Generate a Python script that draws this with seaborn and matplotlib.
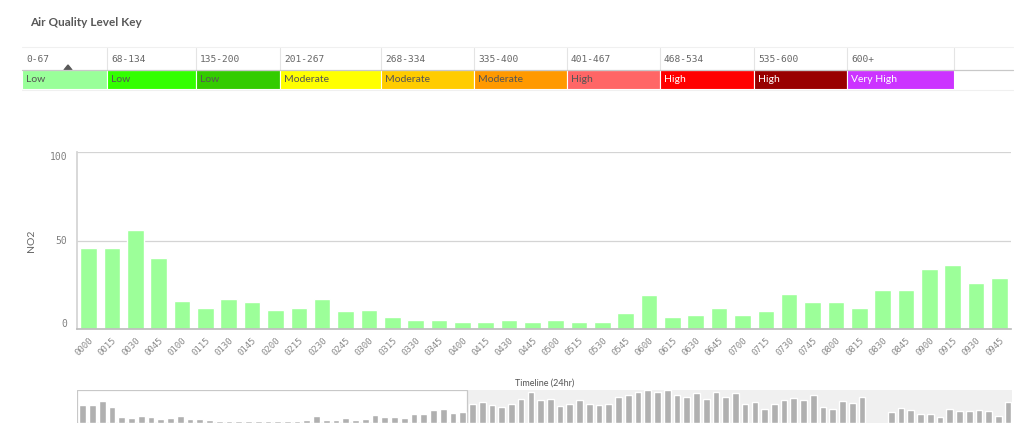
import matplotlib.pyplot as plt
import matplotlib.patches as mpatches
import pandas as pd
import seaborn as sns

# air quality key
key_ranges = ['0-67', '68-134', '135-200', '201-267', '268-334', '335-400',
              '401-467', '468-534', '535-600', '600+']
key_levels = ['Low', 'Low', 'Low', 'Moderate', 'Moderate', 'Moderate',
              'High', 'High', 'High', 'Very High']
key_colors = ['#99ff99', '#33ff00', '#33cc00', '#ffff00', '#ffcc00', '#ff9900',
              '#ff6666', '#ff0000', '#990000', '#cc33ff']
key_text_colors = ['#555555'] * 7 + ['white'] * 3

# main chart: NO2 per 15 min
times = ['0000', '0015', '0030', '0045', '0100', '0115', '0130', '0145',
         '0200', '0215', '0230', '0245', '0300', '0315', '0330', '0345',
         '0400', '0415', '0430', '0445', '0500', '0515', '0530', '0545',
         '0600', '0615', '0630', '0645', '0700', '0715', '0730', '0745',
         '0800', '0815', '0830', '0845', '0900', '0915', '0930', '0945']
no2 = [46, 46, 56, 40, 16, 12, 17, 15, 11, 12, 17, 10, 11, 7, 5, 5,
       4, 4, 5, 4, 5, 4, 4, 9, 19, 7, 8, 12, 8, 10, 20, 15,
       15, 12, 22, 22, 34, 36, 26, 29]

# rest of the 24hr timeline (1000 onwards), None = no reading
no2_rest = [50, 53, 46, 42, 49, 63, 80, 59, 63, 44, 50, 58, 50, 46, 50, 67,
            72, 81, 84, 79, 84, 72, 66, 78, 62, 81, 68, 77, 48, 53, 35, 48,
            60, 64, 58, 71, 40, 36, 57, 51, 68, None, None, 29, 39, 34, 24, 22,
            16, 35, 30, 31, 34, 31, 18, 55]

W, H = 1024, 433
sns.set_theme(style='white')
plt.rcParams['font.family'] = ['Lato', 'DejaVu Sans']

fig = plt.figure(figsize=(W / 100, H / 100), dpi=100)


def frac(x0, y0, x1, y1):
    # pixel box (top-left origin) -> figure fraction rect
    return [x0 / W, 1 - y1 / H, (x1 - x0) / W, (y1 - y0) / H]


# ---- key table ----
ax_key = fig.add_axes([0, 0, 1, 1])
ax_key.set_xlim(0, W)
ax_key.set_ylim(H, 0)
ax_key.axis('off')

ax_key.text(30, 23, 'Air Quality Level Key', fontsize=8.5, fontweight='bold',
            color='#595959', va='center', ha='left')

col_w = [85, 89, 84, 101, 93, 93, 93, 94, 93, 107]
row1 = (48, 70)
row2 = (70, 89)
x = 22
for rng, lvl, c, tc, w in zip(key_ranges, key_levels, key_colors, key_text_colors, col_w):
    ax_key.add_patch(mpatches.Rectangle((x, row2[0]), w, row2[1] - row2[0],
                                        facecolor=c, edgecolor='white', lw=0.8))
    ax_key.text(x + 4, (row1[0] + row1[1]) / 2, rng, family='DejaVu Sans Mono',
                fontsize=6.8, color='#666666', va='center', ha='left')
    ax_key.text(x + 4, (row2[0] + row2[1]) / 2 + 0.5, lvl, fontsize=7.5,
                color=tc, va='center', ha='left')
    ax_key.plot([x + w, x + w], [row1[0], row1[1]], color='#e4e4e4', lw=0.8)
    x += w
ax_key.plot([22, 1013], [row1[0] - 1, row1[0] - 1], color='#f0f0f0', lw=0.8)
ax_key.plot([22, 1013], [row1[1], row1[1]], color='#c8c8c8', lw=0.9)
ax_key.plot([22, 1013], [row2[1] + 1, row2[1] + 1], color='#f0f0f0', lw=0.8)
ax_key.add_patch(mpatches.Polygon([(64, 70), (72, 70), (68, 65)],
                                  closed=True, color='#595959'))

# ---- main bar chart ----
ax = fig.add_axes(frac(77, 152, 1011, 329))
df = pd.DataFrame({'time': times, 'NO2': no2})
sns.barplot(data=df, x='time', y='NO2', color='#9cff99', saturation=1,
            width=0.71, ax=ax)
ax.set_xlim(-0.5, len(times) - 0.5)
ax.set_ylim(0, 100)
ax.set_yticks([0, 50, 100])
ax.axhline(50, color='#d4d4d4', lw=0.9, zorder=0)
ax.axhline(100, color='#d4d4d4', lw=0.9, zorder=0)
for s in ['top', 'right']:
    ax.spines[s].set_visible(False)
ax.spines['left'].set_color('#d4d4d4')
ax.spines['bottom'].set_color('#bdbdbd')
ax.tick_params(axis='both', length=0)
ax.tick_params(axis='y', pad=7)
ax.tick_params(axis='x', pad=5)
for lab, va in zip(ax.get_yticklabels(), ['bottom', 'center', 'top']):
    lab.set_family('DejaVu Sans Mono')
    lab.set_fontsize(7)
    lab.set_color('#808080')
    lab.set_va(va)
ax.set_xticks(range(len(times)))
ax.set_xticklabels(times, rotation=45, ha='right', rotation_mode='anchor',
                   family='DejaVu Sans Mono', fontsize=6.5, color='#8a8a8a')
ax.set_xlabel('')
ax.set_ylabel('NO2', fontsize=7.5, color='#666666', labelpad=10)

# ---- timeline navigator ----
tl_vals = no2 + no2_rest
tl_slots = [f'{i // 4:02d}{(i % 4) * 15:02d}' for i in range(len(tl_vals))]
tl = pd.DataFrame({'slot': tl_slots, 'NO2': tl_vals})

ax_tl = fig.add_axes(frac(77, 390, 1012, 423))
ax_tl.set_facecolor('#f0f0f0')
sns.barplot(data=tl.dropna(), x='slot', y='NO2', order=tl_slots,
            color='#b0b0b0', saturation=1, width=0.69, ax=ax_tl, zorder=3)
ax_tl.set_xlim(-0.6, len(tl_vals) - 0.6)
ax_tl.set_ylim(0, 85)
ax_tl.axvspan(-0.6, len(times) - 0.55, facecolor='white', edgecolor='#c8c8c8',
              lw=0.9, zorder=1)
ax_tl.set_xticks([])
ax_tl.set_yticks([])
ax_tl.set_xlabel('')
ax_tl.set_ylabel('')
for s in ax_tl.spines.values():
    s.set_visible(False)
ax_tl.set_title('Timeline (24hr)', fontsize=6.5, color='#555555', pad=3)

fig.savefig('out.png', dpi=100, facecolor='white')
